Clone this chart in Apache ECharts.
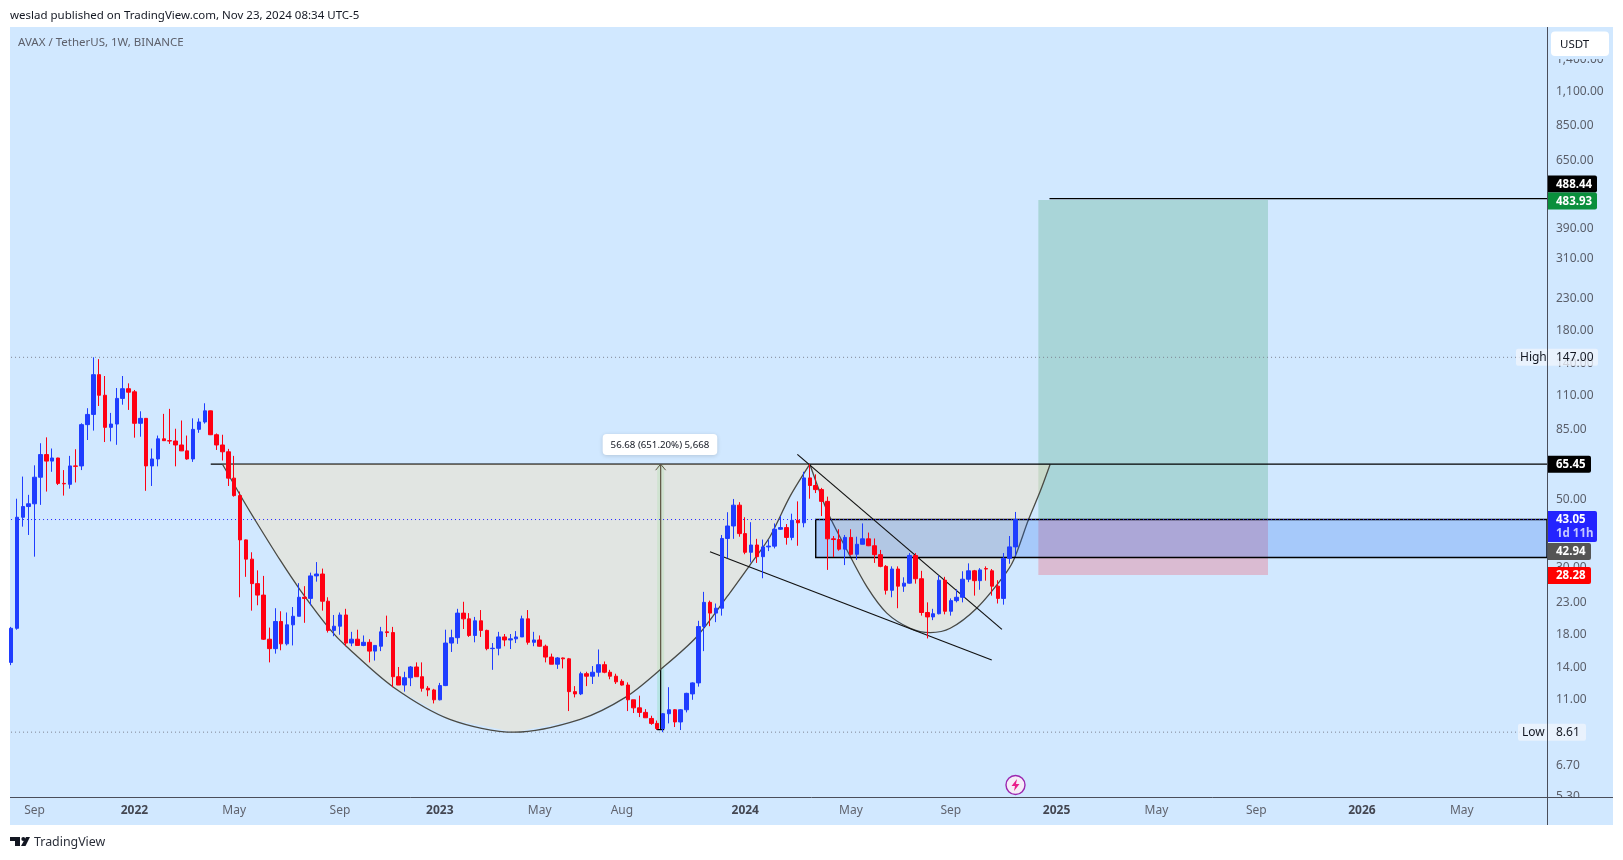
<!DOCTYPE html>
<html>
<head>
<meta charset="utf-8">
<title>AVAX / TetherUS</title>
<style>
  html, body { margin: 0; padding: 0; background: #fff; }
  #chart { width: 1623px; height: 860px; }
</style>
<script src="https://cdn.jsdelivr.net/npm/echarts@6/dist/echarts.min.js"></script>
</head>
<body>
<div id="chart"></div>
<script>
// weekly candles
const weekOpen = [
  14.6,18.9,43.8,47.5,48.5,59.3,70.4,67.0,68.6,56.6,
  56.2,64.6,64.6,88.3,95.4,128.9,110.3,86.5,88.7,107.7,
  115.9,113.2,89.2,92.6,64.6,68.1,79.3,78.2,78,75.7,
  72.4,68.1,85.2,90.1,98,81.8,75.7,71.9,58.9,51.6,
  36.9,31.9,26.5,24.3,17.4,16.2,19.9,16.8,19.4,20.7,
  23.9,23.7,28.1,28.5,23.2,18.6,19.2,20.9,16.9,17.4,
  16.6,17,15.9,16.5,18.4,18.3,13.1,12.3,13,14.1,
  13.1,12,11.85,11,12.25,16.9,17.6,21.2,20.3,17.9,
  20,18.6,16.2,16.25,17.7,17.3,17.45,17.7,20.3,17,
  17.3,16.5,15.2,14.4,15.1,15,11.7,11.5,13.4,13.15,
  13.55,14.35,13.55,13.15,12.65,12.3,11,10.35,10,9.55,
  9.2,8.85,9.9,10.2,9.3,10.2,11.5,12.5,19.15,23,
  21.2,22,37.3,41,48,38.7,33.6,35.5,32.5,35,
  35.2,40,40.5,37.6,42.8,42,59,55.7,54,49.4,
  37.2,37,34.4,37.6,33.1,35.7,37.2,35.3,33,30.2,
  25.2,29.6,26,26.6,32.8,27.5,21.3,20.6,21.1,27.2,
  21.5,23.3,23.9,27.4,29.2,27.1,29.7,29.2,26,23.7,
  32.1,35
]
const weekClose = [
  18.9,43.8,47.5,48.5,59.3,70.4,67,68.6,56.6,56.4,
  64.6,64.4,88.3,95.4,128.9,110.3,86.5,88.7,107.7,115.9,
  112.9,89.2,92.6,64.6,68.1,79.3,78.2,78,75.7,72.4,
  68.1,85.2,90.1,98,81.8,75.7,71.9,58.9,51.6,36.9,
  31.9,26.5,24.3,17.4,16.2,19.9,16.8,19.4,20.7,23.9,
  23.7,28.1,28.5,23.2,18.6,19.2,20.9,16.9,17.4,16.6,
  17,15.9,16.6,18.4,18.3,13.1,12.3,13,14.1,13.1,
  12,11.85,11,12.25,16.9,17.6,21.2,20.3,17.9,20,
  18.6,16.2,16.25,17.7,17.3,17.45,17.7,20.3,17,17.3,
  16.5,15.2,14.4,15.1,15,11.7,11.5,13.4,13.15,13.55,
  14.35,13.55,13.15,12.6,12.3,11,10.35,10,9.6,9.2,
  8.85,9.9,10.2,9.3,10.2,11.55,12.5,19.15,23,21.2,
  22,37.3,41,48,38.7,33.6,35.5,32.5,35,35.2,
  40,40.5,37.6,42.8,42,59,55.7,54,49.4,37.2,
  37,34.4,37.6,33.1,35.7,37.2,35.3,33,30.2,25.2,
  29.6,26,26.6,32.8,27.5,21.3,20.6,21.1,27.2,21.5,
  23.3,23.9,27.4,29.2,27.1,29.4,29.6,26,23.7,32.1,
  35,43.05
]
const weekHigh = [
  19.1,50.4,59.6,51.9,64.9,76.7,80.2,73.7,68.7,62.6,
  69.7,73.3,89.2,100,147,145,127.6,96.5,116.5,127.6,
  120.7,114.8,97.7,92.7,73.7,81.3,95.8,99.5,85.6,91.1,
  81.3,92.6,92.6,103.8,98.2,82.6,81.8,73.5,69.7,53.2,
  37,33.6,29.3,28.1,19,22,21.5,21.3,22.2,26.6,
  26,28.8,31.2,29.7,23.9,20.9,21.3,21.9,18.4,18.7,
  17.9,17.4,16.6,19.1,20.8,19.1,14.1,13.6,14.2,14.6,
  14.6,12.2,11.95,12.5,18.7,18.7,21.9,23.1,21.2,20.6,
  21.7,18.7,16.9,18.4,18.1,18.1,18.5,20.8,21.7,18.4,
  17.9,16.7,15.6,15.2,15.15,15.1,12.2,13.6,13.6,14.2,
  16.1,14.7,13.8,13.4,12.85,12.55,11,11.35,10.25,9.75,
  9.4,9.95,12.1,10.25,10.25,11.6,12.55,20,24.9,23.3,
  22.8,38.3,45.5,50.3,49.1,43.8,42.2,37.2,37,37,
  41.8,44.2,41.6,45,49.4,61.8,65.45,60.6,54.7,51.2,
  38,40,38.3,40,37.8,41.8,39,37.3,34.2,30.5,
  30.2,30.2,27.8,33.4,33.4,29.2,23,21.9,28.2,27.9,
  23.7,25.4,29.1,30.9,29.4,29.8,30.2,29.6,27.2,33.4,
  38,45.6
]
const weekLow = [
  14.3,18.7,40.8,38.3,32.5,48.1,53.2,61.8,55.9,51.6,
  54.4,57,62.6,78.6,84.4,101.7,77.4,77.8,75.8,102.7,
  98.7,80,80.6,53.5,55.5,64.4,78,76.3,64.4,72.3,
  67.7,66.6,83,89,81.6,72.9,67.3,55.5,51.2,23.9,
  27.9,21.6,22.5,17.3,14.6,15.6,16,16.6,16.6,20.7,
  19.7,22.5,26.9,21.6,18.3,17.8,18,16.5,16.5,16.6,
  16.5,14.6,14.8,15.9,17.7,12.1,12.3,11.7,12.2,13.1,
  11.7,11.3,10.7,10.95,12.2,15.8,16.8,18.8,17.7,17,
  17.7,16,13.8,15.4,16.5,16.15,16.9,17.7,16.7,16.5,
  16.45,14.6,14.4,13.9,13.95,10.1,11.2,11.4,12.2,12.4,
  13.1,13.45,12.85,12.4,12.25,10.1,9.95,9.65,9.6,9.1,
  8.75,8.61,9.2,8.95,8.75,10,11,12.15,15.9,19.2,
  19.8,20.8,32.1,37.2,37.8,33.1,31.1,31,27.6,33.9,
  34.6,39.8,35.6,36.8,35.3,40.6,50.4,52.6,44.2,29.4,
  32.4,34,30.5,32.8,31.7,35.7,35.2,31,30,24.4,
  23.9,22,24.9,26.5,26.5,20.8,17.5,20.1,21,21,
  20.8,23,23,26.8,24.2,25.3,27.1,24.2,22.8,22.6,
  30.8,32.7
]

// time axis ticks, as week numbers on the axis
const weekCount = 262
const tickWeeks = [4,21,38,56,73,90,104,125,143,160,178,195,212,230,247]
const tickNames = ['Sep','2022','May','Sep','2023','May','Aug','2024','May','Sep','2025','May','Sep','2026','May']

// price ticks
const priceTicks = [1400,1100,850,650,390,310,230,180,140,110,85,50,30,23,18,14,11,6.7,5.3]

// key levels
const highPrice = 147, lowPrice = 8.61, lastPrice = 43.05
const rimPrice = 65.45, targetLine = 488.44
const entryPrice = 42.94, targetPrice = 483.93, stopPrice = 28.28
const boxTop = 43.05, boxBottom = 32.3

// the drawn curves, [week, price]
const bigCupWeeks = [36,39.5,41.2,45.8,49.2,54.3,57.2,65.1,74.7,85.7,96.9,104.8,110.5,116.7,121.9,125.8,129.2,132.6,136]
const bigCupPrices = [65.45,49.9,44,31.7,25.3,18.75,16.4,12.1,9.49,8.61,9.49,11.27,13.8,17.7,24,30.5,37.8,51.2,65.45]
const smallCupWeeks = [136,139,142.3,145.7,149.1,153.1,156.5,159.9,164.4,168.9,170.7,173.2,175.2,176.9]
const smallCupPrices = [65.45,45.7,34.2,25.9,21.2,18.9,18.3,18.9,22,27.9,31.7,42.9,53.2,65.3]

const upperTrendWeeks = [133.87,168.7]
const upperTrendPrices = [70.5,18.75]
const lowerTrendWeeks = [119,166.97]
const lowerTrendPrices = [33.75,14.86]

const rangeWeek = 110.6, rangeWeekFrom = 110.0, rangeWeekTo = 111.2, rangeBottom = 8.77
const rimStartWeek = 34, targetStartWeek = 176.8, boxStartWeek = 137
const zoneWeekFrom = 174.9, zoneWeekTo = 214
const lastWeek = weekCount - 0.5

const axisColor = '#4a4e5a'
const panelColor = '#d1e8ff'
const fontName = '"Noto Sans", sans-serif'
const tagFont = 'bold 11.5px ' + fontName

// price tags on the right scale: shift moves a tag off its level when tags collide
const tags = [
  { price: entryPrice, text: '42.94', bg: '#555555', color: '#fff', w: 43, h: 17, shift: 31.5 },
  { price: stopPrice, text: '28.28', bg: '#ff0000', color: '#fff', w: 43, h: 17, shift: 0.5 },
  { price: rimPrice, text: '65.45', bg: '#000000', color: '#fff', w: 43, h: 17, shift: 0 },
  { price: targetLine, text: '488.44', bg: '#000000', color: '#fff', w: 49, h: 17, shift: -14.8 },
  { price: targetPrice, text: '483.93', bg: '#0a8f3c', color: '#fff', w: 49, h: 17, shift: 1.2 },
  { price: lastPrice, text: '43.05', sub: '1d 11h', bg: '#2424ff', color: '#fff', w: 49, h: 31, shift: 7 },
  { price: highPrice, text: '147.00', side: 'High', bg: 'rgba(240,245,252,0.78)', color: '#131722', w: 50, h: 17, sideW: 32, shift: 0 },
  { price: lowPrice, text: '8.61', side: 'Low', bg: 'rgba(240,245,252,0.78)', color: '#131722', w: 38, h: 17, sideW: 30, shift: 0 }
]

const candleData = weekOpen.map((o, i) => [o, weekClose[i], weekLow[i], weekHigh[i]])
const categories = Array.from({ length: weekCount }, (_, i) => 'w' + i)

const lineSeries = (weeks, prices, color, width, z, type) => ({
  type: 'line',
  xAxisIndex: 1,
  data: weeks.map((w, i) => [w, prices[i]]),
  showSymbol: false,
  symbol: 'none',
  silent: true,
  z: z,
  lineStyle: { color: color, width: width, type: type || 'solid', cap: 'butt' }
})

// price box between two weeks and two prices
const zoneSeries = (fromWeek, toWeek, priceA, priceB, fill, z, stroke) => ({
  type: 'custom',
  xAxisIndex: 1,
  silent: true,
  z: z,
  data: [[fromWeek, priceA]],
  renderItem: (params, api) => {
    const a = api.coord([fromWeek, priceA])
    const b = api.coord([toWeek, priceB])
    return {
      type: 'rect',
      shape: { x: a[0], y: a[1], width: b[0] - a[0], height: b[1] - a[1] },
      style: { fill: fill, stroke: stroke || null, lineWidth: stroke ? 1.4 : 0 }
    }
  }
})

const cupSeries = (weeks, prices, z) => ({
  type: 'custom',
  xAxisIndex: 1,
  silent: true,
  z: z,
  data: [[weeks[0], prices[0]]],
  renderItem: (params, api) => {
    const pts = weeks.map((w, i) => api.coord([w, prices[i]]))
    return {
      type: 'group',
      children: [
        { type: 'polygon', shape: { points: pts }, style: { fill: 'rgba(255,225,175,0.36)' } },
        { type: 'polyline', shape: { points: pts, smooth: 0.3 }, style: { fill: null, stroke: '#4a4a44', lineWidth: 1.3 } }
      ]
    }
  }
})

const tagSeries = {
  type: 'custom',
  xAxisIndex: 1,
  silent: true,
  z: 40,
  data: tags.map(t => [lastWeek, t.price]),
  renderItem: (params, api) => {
    const t = tags[params.dataIndex]
    const p = api.coord([lastWeek, t.price])
    const left = p[0] + 1
    const top = p[1] + t.shift - t.h / 2
    const font = t.side ? '12px ' + fontName : tagFont
    const kids = [{
      type: 'rect',
      shape: { x: left, y: top, width: t.w, height: t.h, r: [0, 2, 2, 0] },
      style: { fill: t.bg }
    }]
    if (t.side) {
      kids.push({
        type: 'rect',
        shape: { x: left - t.sideW, y: top, width: t.sideW, height: t.h, r: [2, 0, 0, 2] },
        style: { fill: t.bg }
      })
      kids.push({
        type: 'text',
        style: { x: left - t.sideW + 4, y: top + 9, text: t.side, fill: t.color, font: font, verticalAlign: 'middle' }
      })
    }
    kids.push({
      type: 'text',
      style: { x: left + 8, y: top + (t.sub ? 9 : t.h / 2 + 0.5), text: t.text, fill: t.color, font: font, verticalAlign: 'middle' }
    })
    if (t.sub) {
      kids.push({
        type: 'text',
        style: { x: left + 8, y: top + 23, text: t.sub, fill: '#c4c8ff', font: tagFont, verticalAlign: 'middle' }
      })
    }
    return { type: 'group', children: kids }
  }
}

// label and arrow head of the price range tool
const rangeLabelSeries = {
  type: 'custom',
  xAxisIndex: 1,
  silent: true,
  z: 30,
  data: [[rangeWeek, rimPrice]],
  renderItem: (params, api) => {
    const p = api.coord([rangeWeek, rimPrice])
    return {
      type: 'group',
      children: [
        {
          type: 'polyline',
          shape: { points: [[p[0] - 5, p[1] + 6], [p[0], p[1]], [p[0] + 5, p[1] + 6]] },
          style: { fill: null, stroke: '#5d5545', lineWidth: 1 }
        },
        {
          type: 'rect',
          shape: { x: p[0] - 58, y: p[1] - 30.3, width: 114.6, height: 21, r: 4 },
          style: { fill: '#fff', shadowBlur: 4, shadowColor: 'rgba(0,0,0,0.15)', shadowOffsetY: 1 }
        },
        {
          type: 'text',
          style: {
            x: p[0] - 0.7, y: p[1] - 19.3, text: '56.68 (651.20%) 5,668', fill: '#131722',
            font: '9.7px ' + fontName, align: 'center', verticalAlign: 'middle'
          }
        }
      ]
    }
  }
}

const chart = echarts.init(document.getElementById('chart'), null, { renderer: 'canvas' })

const option = {
  animation: false,
  backgroundColor: '#fff',
  grid: { left: 8.1, top: 27, width: 1538.9, height: 770, containLabel: false },
  xAxis: [
    {
      type: 'category',
      data: categories,
      boundaryGap: true,
      axisTick: { show: false },
      axisLine: { show: false },
      splitLine: { show: false },
      axisLabel: {
        margin: 8,
        interval: (i) => tickWeeks.includes(i),
        formatter: (v, i) => {
          const name = tickNames[tickWeeks.indexOf(i)]
          return /^\d/.test(name) ? '{year|' + name + '}' : '{month|' + name + '}'
        },
        rich: {
          year: { color: '#434651', fontSize: 12, fontWeight: 'bold', fontFamily: fontName },
          month: { color: '#60636e', fontSize: 12, fontFamily: fontName }
        }
      }
    },
    { type: 'value', show: false, min: -0.5, max: lastWeek, splitLine: { show: false } }
  ],
  yAxis: {
    type: 'log',
    position: 'right',
    min: 5.27,
    max: 1791.5,
    axisTick: { show: false },
    axisLine: { show: false },
    splitLine: { show: false },
    axisLabel: {
      margin: 9,
      color: '#5a5e69',
      fontSize: 12,
      fontFamily: fontName,
      padding: [2, 0, 0, 0],
      customValues: priceTicks,
      formatter: (v) => Number(v).toLocaleString('en-US', { minimumFractionDigits: 2, maximumFractionDigits: 2 })
    }
  },
  series: [
    zoneSeries(zoneWeekFrom, zoneWeekTo, targetPrice, entryPrice, 'rgba(8,140,60,0.2)', 1),
    zoneSeries(zoneWeekFrom, zoneWeekTo, entryPrice, stopPrice, 'rgba(255,10,30,0.2)', 1),
    cupSeries(smallCupWeeks, smallCupPrices, 2),
    lineSeries([0, lastWeek], [highPrice, highPrice], '#7d8290', 1, 2, [1, 3]),
    lineSeries([0, lastWeek], [lowPrice, lowPrice], '#7d8290', 1, 2, [1, 3]),
    lineSeries([rimStartWeek, lastWeek], [rimPrice, rimPrice], '#000', 1.2, 3),
    zoneSeries(rangeWeekFrom, rangeWeekTo, rimPrice, rangeBottom, 'rgba(120,220,170,0.3)', 3),
    lineSeries([rangeWeek, rangeWeek], [rimPrice, rangeBottom], '#000', 1.2, 3),
    lineSeries([rangeWeekFrom, rangeWeekTo], [rangeBottom, rangeBottom], '#000', 1.2, 3),
    cupSeries(bigCupWeeks, bigCupPrices, 4),
    lineSeries([targetStartWeek, lastWeek], [targetLine, targetLine], '#000', 1.2, 4),
    zoneSeries(boxStartWeek, lastWeek, boxTop, boxBottom, 'rgba(26,104,234,0.235)', 5, '#000'),
    lineSeries([0, lastWeek], [lastPrice, lastPrice], '#2424ff', 1, 6, [1, 3]),
    lineSeries(upperTrendWeeks, upperTrendPrices, '#111', 1.2, 6),
    lineSeries(lowerTrendWeeks, lowerTrendPrices, '#111', 1.2, 6),
    {
      type: 'candlestick',
      data: candleData,
      barWidth: 4,
      silent: true,
      z: 10,
      itemStyle: {
        color: '#1f3dff',
        color0: '#ff0012',
        borderColor: '#1f3dff',
        borderColor0: '#ff0012',
        borderWidth: 1
      }
    },
    rangeLabelSeries,
    tagSeries
  ],
  graphic: [
    { type: 'rect', z: -10, silent: true, shape: { x: 10, y: 27, width: 1603, height: 798 }, style: { fill: panelColor } },
    // masks the scale below the time axis, then the axis lines
    { type: 'rect', z: 50, silent: true, shape: { x: 1548, y: 797, width: 65, height: 28 }, style: { fill: panelColor } },
    { type: 'line', z: 51, silent: true, shape: { x1: 10, y1: 797.5, x2: 1613, y2: 797.5 }, style: { stroke: axisColor, lineWidth: 1 } },
    { type: 'line', z: 51, silent: true, shape: { x1: 1547.5, y1: 27, x2: 1547.5, y2: 825 }, style: { stroke: axisColor, lineWidth: 1 } },
    // header and footer
    { type: 'text', z: 60, silent: true, style: { x: 10, y: 15.5, text: 'weslad published on TradingView.com, Nov 23, 2024 08:34 UTC-5', fill: '#131722', font: '11.5px ' + fontName, verticalAlign: 'middle' } },
    { type: 'text', z: 60, silent: true, style: { x: 18, y: 42.5, text: 'AVAX / TetherUS, 1W, BINANCE', fill: '#5d606b', font: '11.5px ' + fontName, verticalAlign: 'middle' } },
    { type: 'text', z: 60, silent: true, style: { x: 34, y: 842.5, text: 'TradingView', fill: '#2a2e39', font: '12.4px ' + fontName, verticalAlign: 'middle' } },
    { type: 'polygon', z: 60, silent: true, shape: { points: [[10, 837], [20, 837], [20, 846], [15, 846], [15, 841], [10, 841]] }, style: { fill: '#131722' } },
    { type: 'circle', z: 60, silent: true, shape: { cx: 23.3, cy: 839, r: 2 }, style: { fill: '#131722' } },
    { type: 'polygon', z: 60, silent: true, shape: { points: [[26, 837], [30, 837], [25.5, 846], [21, 846]] }, style: { fill: '#131722' } },
    // currency button, with a strip under it that cuts the top tick label
    { type: 'rect', z: 60, silent: true, shape: { x: 1548, y: 56, width: 65, height: 3 }, style: { fill: panelColor } },
    { type: 'rect', z: 60, silent: true, shape: { x: 1551, y: 31.5, width: 58, height: 24.5, r: 4 }, style: { fill: '#fff' } },
    { type: 'text', z: 61, silent: true, style: { x: 1560, y: 45, text: 'USDT', fill: '#131722', font: '11.5px ' + fontName, verticalAlign: 'middle' } },
    // bolt marker
    { type: 'circle', z: 60, silent: true, shape: { cx: 1015.5, cy: 785, r: 9.5 }, style: { fill: '#f6ecf8', stroke: '#9c27b0', lineWidth: 1.4 } },
    { type: 'polygon', z: 61, silent: true, shape: { points: [[1017, 779], [1011.5, 786], [1015, 786], [1014, 791], [1019.5, 784], [1016, 784]] }, style: { fill: '#e91e8a' } }
  ]
}

chart.setOption(option)
window.addEventListener('resize', chart.resize)
</script>
</body>
</html>
